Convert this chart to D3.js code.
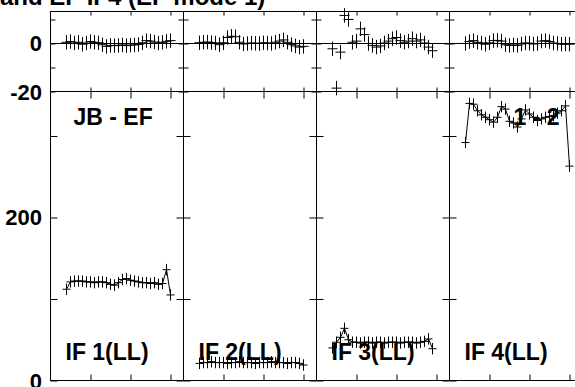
<!DOCTYPE html>
<html>
<head>
<meta charset="utf-8">
<script src="https://cdn.jsdelivr.net/npm/d3@7"></script>
<style>
html,body{margin:0;padding:0;background:#fff;overflow:hidden;}
text{font-family:"Liberation Sans",Arial,sans-serif;font-weight:bold;fill:#000;}
</style>
</head>
<body>
<svg id="chart" width="575" height="387"></svg>
<script>
// ---- data ----
const titleText = "and EF IF4 (EF mode 1)";
const baselineLabel = "JB - EF";
const stokesLabel = "1 - 2";
const ifLabels = ["IF 1(LL)", "IF 2(LL)", "IF 3(LL)", "IF 4(LL)"];
const channels = [4,5,6,7,8,9,10,11,12,13,14,15,16,17,18,19,20,21,22,23,24,25,26,27,28,29,30];

const if1Phase = [0.5,0.8,0.2,0.5,-0.3,0.2,0.8,0.5,0.3,-0.5,-1.2,-0.8,-0.9,-0.8,-0.6,-0.9,-0.7,-0.6,-0.4,0.3,1.2,1.0,0.6,0.2,0.5,0.9,1.2];
const if2Phase = [0.3,0.5,0.6,0.4,0.2,-0.5,0.3,2.5,3.0,2.8,0.5,-0.2,0.0,0.2,0.1,0.0,0.3,0.2,0.0,0.5,1.0,1.5,0.5,-0.5,-1.0,-1.5,-1.2];
const if3Phase = [-2.2,-18.6,-3.6,11.7,10.0,0.5,1.0,6.1,3.7,0.0,-0.8,-1.5,-1.0,0.2,1.0,2.0,2.5,1.2,0.5,1.0,2.0,1.0,1.5,0.2,-1.5,-3.0,null];
const if4Phase = [0.0,0.8,1.2,0.5,0.2,-0.3,0.3,1.2,1.3,1.0,-0.5,-0.8,-0.6,-0.8,-0.2,0.2,0.1,-0.2,0.0,1.0,1.2,0.8,0.2,0.0,-0.3,-0.2,-0.3];

const if1Amp = [112,121,122,122,122,121,121,120,121,121,120,118,117,120,124,125,123,122,121,120,120,119,120,118,119,136,105];
const if2Amp = [21,22,22,23,22,22,22,21,22,22,23,22,22,22,21,22,22,22,23,22,22,22,21,22,22,21,19];
const if3Amp = [40,47,53,64,50,47,47,46,47,47,46,47,47,46,47,47,47,46,47,47,47,46,47,48,51,39,null];
const if4Amp = [292,340,339,331,326,323,320,317,323,336,333,318,316,311,321,332,327,323,319,321,323,324,325,328,331,337,263];

const phaseErr = 3;
const ampErr = 7;

const phaseTicks = [-20,-10,0,10];
const ampTicks = [0,100,200,300];
const chanTicks = [10,20,30];
const phaseLabels = [{v:0,t:"0"},{v:-20,t:"-20"}];
const ampLabels = [{v:200,t:"200"},{v:0,t:"0"}];

const phaseSeries = [if1Phase, if2Phase, if3Phase, if4Phase];
const ampSeries = [if1Amp, if2Amp, if3Amp, if4Amp];

// ---- layout ----
const svg = d3.select("#chart");
svg.append("rect").attr("width",575).attr("height",387).attr("fill","#fff");

const x0 = 50.5, pw = 133;
const phTop = 11.5, phBot = 91.5, amTop = 91.5, amBot = 380.5;

const yPh = d3.scaleLinear().domain([-20, 13.33]).range([phBot, phTop]);
const yAm = d3.scaleLinear().domain([0, 354.6]).range([amBot, amTop]);

function cross(g, x, y, vals, err, hw) {
  const pts = channels.map((c,i)=>({c, v: vals[i]})).filter(d=>d.v!==null);
  const gg = g.append("g").attr("stroke","#000").attr("stroke-width",1).attr("fill","none");
  gg.selectAll("line.v").data(pts).join("line").attr("class","v")
    .attr("x1",d=>x(d.c)).attr("x2",d=>x(d.c))
    .attr("y1",d=>y(d.v-err)).attr("y2",d=>y(d.v+err));
  gg.selectAll("line.h").data(pts).join("line").attr("class","h")
    .attr("x1",d=>x(d.c)-hw).attr("x2",d=>x(d.c)+hw)
    .attr("y1",d=>y(d.v)).attr("y2",d=>y(d.v));
  return pts;
}

for (let p = 0; p < 4; p++) {
  const left = x0 + p*pw, right = left + pw;
  const x = d3.scaleLinear().domain([0, 33.25]).range([left, right]);

  // phase panel
  const gp = svg.append("g");
  gp.append("rect").attr("x",left).attr("y",phTop).attr("width",pw).attr("height",phBot-phTop)
    .attr("fill","none").attr("stroke","#000").attr("stroke-width",1);
  gp.append("line").attr("x1",left).attr("x2",right).attr("y1",yPh(0)).attr("y2",yPh(0))
    .attr("stroke","#000").attr("stroke-width",1);
  gp.append("g").attr("transform",`translate(0,${phTop})`)
    .call(d3.axisBottom(x).tickValues(chanTicks).tickSize(4).tickSizeOuter(0).tickFormat(""));
  gp.append("g").attr("transform",`translate(0,${phBot})`)
    .call(d3.axisTop(x).tickValues(chanTicks).tickSize(4).tickSizeOuter(0).tickFormat(""));
  gp.append("g").attr("transform",`translate(${left},0)`)
    .call(d3.axisRight(yPh).tickValues(phaseTicks).tickSize(5).tickSizeOuter(0).tickFormat(""));
  gp.append("g").attr("transform",`translate(${right},0)`)
    .call(d3.axisLeft(yPh).tickValues(phaseTicks).tickSize(5).tickSizeOuter(0).tickFormat(""));
  cross(gp, x, yPh, phaseSeries[p], phaseErr, 5);

  // amplitude panel
  const ga = svg.append("g");
  ga.append("rect").attr("x",left).attr("y",amTop).attr("width",pw).attr("height",amBot-amTop)
    .attr("fill","none").attr("stroke","#000").attr("stroke-width",1);
  ga.append("g").attr("transform",`translate(0,${amTop})`)
    .call(d3.axisBottom(x).tickValues(chanTicks).tickSize(7).tickSizeOuter(0).tickFormat(""));
  ga.append("g").attr("transform",`translate(0,${amBot})`)
    .call(d3.axisTop(x).tickValues(chanTicks).tickSize(6).tickSizeOuter(0).tickFormat(""));
  ga.append("g").attr("transform",`translate(${left},0)`)
    .call(d3.axisRight(yAm).tickValues(ampTicks).tickSize(7).tickSizeOuter(0).tickFormat(""));
  ga.append("g").attr("transform",`translate(${right},0)`)
    .call(d3.axisLeft(yAm).tickValues(ampTicks).tickSize(7).tickSizeOuter(0).tickFormat(""));
  const pts = cross(ga, x, yAm, ampSeries[p], ampErr, 4);
  ga.append("path").datum(pts)
    .attr("d", d3.line().x(d=>x(d.c)).y(d=>yAm(d.v)))
    .attr("fill","none").attr("stroke","#000").attr("stroke-width",1);

  ga.append("text").attr("x",left+15).attr("y",360).attr("font-size",23).text(ifLabels[p]);
}

svg.selectAll(".domain").remove();
svg.selectAll(".tick line").attr("stroke","#000");

// labels
svg.append("text").attr("x",x0+23).attr("y",125).attr("font-size",23).text(baselineLabel);
svg.append("text").attr("x",x0+3*pw+64).attr("y",125).attr("font-size",23).text(stokesLabel);

phaseLabels.forEach(d=>{
  svg.append("text").attr("x",42).attr("y",yPh(d.v)+8).attr("text-anchor","end")
    .attr("font-size",22).text(d.t);
});
ampLabels.forEach(d=>{
  svg.append("text").attr("x",42).attr("y",yAm(d.v)+8).attr("text-anchor","end")
    .attr("font-size",22).text(d.t);
});

svg.append("text").attr("x",0).attr("y",5).attr("font-size",24).text(titleText);
</script>
</body>
</html>
